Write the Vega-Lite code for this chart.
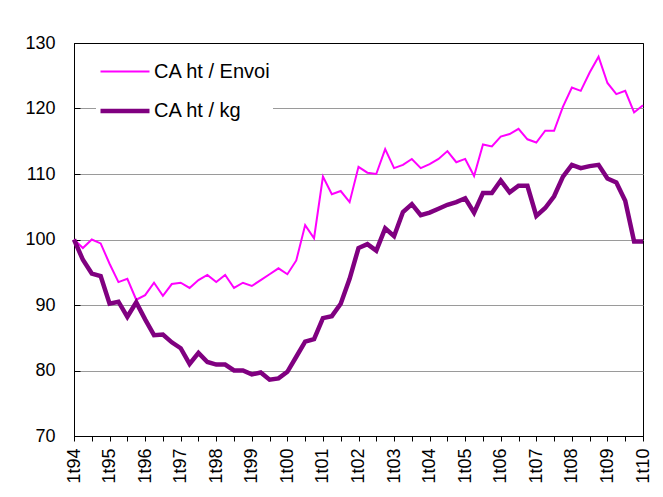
{
  "$schema": "https://vega.github.io/schema/vega-lite/v6.json",
  "autosize": "none",
  "width": 569,
  "height": 393,
  "padding": {"left": 74, "top": 43, "right": 20, "bottom": 61},
  "background": "white",
  "config": {
    "font": "Liberation Sans",
    "view": {"stroke": "black", "strokeWidth": 1}
  },
  "data": {
    "values": [
      {"q": "1t94", "s": "CA ht / Envoi", "v": 100}, {"q": "1t94", "s": "CA ht / kg", "v": 100},
      {"q": "2t94", "s": "CA ht / Envoi", "v": 98.7}, {"q": "2t94", "s": "CA ht / kg", "v": 96.9},
      {"q": "3t94", "s": "CA ht / Envoi", "v": 100}, {"q": "3t94", "s": "CA ht / kg", "v": 94.8},
      {"q": "4t94", "s": "CA ht / Envoi", "v": 99.4}, {"q": "4t94", "s": "CA ht / kg", "v": 94.4},
      {"q": "1t95", "s": "CA ht / Envoi", "v": 96.3}, {"q": "1t95", "s": "CA ht / kg", "v": 90.2},
      {"q": "2t95", "s": "CA ht / Envoi", "v": 93.5}, {"q": "2t95", "s": "CA ht / kg", "v": 90.5},
      {"q": "3t95", "s": "CA ht / Envoi", "v": 94.0}, {"q": "3t95", "s": "CA ht / kg", "v": 88.2},
      {"q": "4t95", "s": "CA ht / Envoi", "v": 90.8}, {"q": "4t95", "s": "CA ht / kg", "v": 90.4},
      {"q": "1t96", "s": "CA ht / Envoi", "v": 91.5}, {"q": "1t96", "s": "CA ht / kg", "v": 87.8},
      {"q": "2t96", "s": "CA ht / Envoi", "v": 93.4}, {"q": "2t96", "s": "CA ht / kg", "v": 85.4},
      {"q": "3t96", "s": "CA ht / Envoi", "v": 91.4}, {"q": "3t96", "s": "CA ht / kg", "v": 85.5},
      {"q": "4t96", "s": "CA ht / Envoi", "v": 93.2}, {"q": "4t96", "s": "CA ht / kg", "v": 84.3},
      {"q": "1t97", "s": "CA ht / Envoi", "v": 93.4}, {"q": "1t97", "s": "CA ht / kg", "v": 83.4},
      {"q": "2t97", "s": "CA ht / Envoi", "v": 92.6}, {"q": "2t97", "s": "CA ht / kg", "v": 81.0},
      {"q": "3t97", "s": "CA ht / Envoi", "v": 93.8}, {"q": "3t97", "s": "CA ht / kg", "v": 82.7},
      {"q": "4t97", "s": "CA ht / Envoi", "v": 94.6}, {"q": "4t97", "s": "CA ht / kg", "v": 81.3},
      {"q": "1t98", "s": "CA ht / Envoi", "v": 93.5}, {"q": "1t98", "s": "CA ht / kg", "v": 80.9},
      {"q": "2t98", "s": "CA ht / Envoi", "v": 94.6}, {"q": "2t98", "s": "CA ht / kg", "v": 80.9},
      {"q": "3t98", "s": "CA ht / Envoi", "v": 92.6}, {"q": "3t98", "s": "CA ht / kg", "v": 80.0},
      {"q": "4t98", "s": "CA ht / Envoi", "v": 93.4}, {"q": "4t98", "s": "CA ht / kg", "v": 80.0},
      {"q": "1t99", "s": "CA ht / Envoi", "v": 92.9}, {"q": "1t99", "s": "CA ht / kg", "v": 79.4},
      {"q": "2t99", "s": "CA ht / Envoi", "v": 93.8}, {"q": "2t99", "s": "CA ht / kg", "v": 79.7},
      {"q": "3t99", "s": "CA ht / Envoi", "v": 94.7}, {"q": "3t99", "s": "CA ht / kg", "v": 78.6},
      {"q": "4t99", "s": "CA ht / Envoi", "v": 95.6}, {"q": "4t99", "s": "CA ht / kg", "v": 78.8},
      {"q": "1t00", "s": "CA ht / Envoi", "v": 94.7}, {"q": "1t00", "s": "CA ht / kg", "v": 79.8},
      {"q": "2t00", "s": "CA ht / Envoi", "v": 96.8}, {"q": "2t00", "s": "CA ht / kg", "v": 82.1},
      {"q": "3t00", "s": "CA ht / Envoi", "v": 102.2}, {"q": "3t00", "s": "CA ht / kg", "v": 84.4},
      {"q": "4t00", "s": "CA ht / Envoi", "v": 100.2}, {"q": "4t00", "s": "CA ht / kg", "v": 84.8},
      {"q": "1t01", "s": "CA ht / Envoi", "v": 109.6}, {"q": "1t01", "s": "CA ht / kg", "v": 88.0},
      {"q": "2t01", "s": "CA ht / Envoi", "v": 106.9}, {"q": "2t01", "s": "CA ht / kg", "v": 88.3},
      {"q": "3t01", "s": "CA ht / Envoi", "v": 107.4}, {"q": "3t01", "s": "CA ht / kg", "v": 90.2},
      {"q": "4t01", "s": "CA ht / Envoi", "v": 105.7}, {"q": "4t01", "s": "CA ht / kg", "v": 94.0},
      {"q": "1t02", "s": "CA ht / Envoi", "v": 111.1}, {"q": "1t02", "s": "CA ht / kg", "v": 98.7},
      {"q": "2t02", "s": "CA ht / Envoi", "v": 110.2}, {"q": "2t02", "s": "CA ht / kg", "v": 99.3},
      {"q": "3t02", "s": "CA ht / Envoi", "v": 110.0}, {"q": "3t02", "s": "CA ht / kg", "v": 98.3},
      {"q": "4t02", "s": "CA ht / Envoi", "v": 113.8}, {"q": "4t02", "s": "CA ht / kg", "v": 101.7},
      {"q": "1t03", "s": "CA ht / Envoi", "v": 110.9}, {"q": "1t03", "s": "CA ht / kg", "v": 100.5},
      {"q": "2t03", "s": "CA ht / Envoi", "v": 111.4}, {"q": "2t03", "s": "CA ht / kg", "v": 104.2},
      {"q": "3t03", "s": "CA ht / Envoi", "v": 112.3}, {"q": "3t03", "s": "CA ht / kg", "v": 105.4},
      {"q": "4t03", "s": "CA ht / Envoi", "v": 110.9}, {"q": "4t03", "s": "CA ht / kg", "v": 103.7},
      {"q": "1t04", "s": "CA ht / Envoi", "v": 111.5}, {"q": "1t04", "s": "CA ht / kg", "v": 104.1},
      {"q": "2t04", "s": "CA ht / Envoi", "v": 112.3}, {"q": "2t04", "s": "CA ht / kg", "v": 104.7},
      {"q": "3t04", "s": "CA ht / Envoi", "v": 113.5}, {"q": "3t04", "s": "CA ht / kg", "v": 105.3},
      {"q": "4t04", "s": "CA ht / Envoi", "v": 111.8}, {"q": "4t04", "s": "CA ht / kg", "v": 105.7},
      {"q": "1t05", "s": "CA ht / Envoi", "v": 112.3}, {"q": "1t05", "s": "CA ht / kg", "v": 106.3},
      {"q": "2t05", "s": "CA ht / Envoi", "v": 109.7}, {"q": "2t05", "s": "CA ht / kg", "v": 104.1},
      {"q": "3t05", "s": "CA ht / Envoi", "v": 114.5}, {"q": "3t05", "s": "CA ht / kg", "v": 107.1},
      {"q": "4t05", "s": "CA ht / Envoi", "v": 114.2}, {"q": "4t05", "s": "CA ht / kg", "v": 107.1},
      {"q": "1t06", "s": "CA ht / Envoi", "v": 115.7}, {"q": "1t06", "s": "CA ht / kg", "v": 109.0},
      {"q": "2t06", "s": "CA ht / Envoi", "v": 116.1}, {"q": "2t06", "s": "CA ht / kg", "v": 107.2},
      {"q": "3t06", "s": "CA ht / Envoi", "v": 116.9}, {"q": "3t06", "s": "CA ht / kg", "v": 108.2},
      {"q": "4t06", "s": "CA ht / Envoi", "v": 115.3}, {"q": "4t06", "s": "CA ht / kg", "v": 108.2},
      {"q": "1t07", "s": "CA ht / Envoi", "v": 114.8}, {"q": "1t07", "s": "CA ht / kg", "v": 103.6},
      {"q": "2t07", "s": "CA ht / Envoi", "v": 116.6}, {"q": "2t07", "s": "CA ht / kg", "v": 104.8},
      {"q": "3t07", "s": "CA ht / Envoi", "v": 116.6}, {"q": "3t07", "s": "CA ht / kg", "v": 106.6},
      {"q": "4t07", "s": "CA ht / Envoi", "v": 120.3}, {"q": "4t07", "s": "CA ht / kg", "v": 109.6},
      {"q": "1t08", "s": "CA ht / Envoi", "v": 123.2}, {"q": "1t08", "s": "CA ht / kg", "v": 111.4},
      {"q": "2t08", "s": "CA ht / Envoi", "v": 122.7}, {"q": "2t08", "s": "CA ht / kg", "v": 110.9},
      {"q": "3t08", "s": "CA ht / Envoi", "v": 125.5}, {"q": "3t08", "s": "CA ht / kg", "v": 111.2},
      {"q": "4t08", "s": "CA ht / Envoi", "v": 127.9}, {"q": "4t08", "s": "CA ht / kg", "v": 111.4},
      {"q": "1t09", "s": "CA ht / Envoi", "v": 123.9}, {"q": "1t09", "s": "CA ht / kg", "v": 109.3},
      {"q": "2t09", "s": "CA ht / Envoi", "v": 122.2}, {"q": "2t09", "s": "CA ht / kg", "v": 108.7},
      {"q": "3t09", "s": "CA ht / Envoi", "v": 122.7}, {"q": "3t09", "s": "CA ht / kg", "v": 105.9},
      {"q": "4t09", "s": "CA ht / Envoi", "v": 119.4}, {"q": "4t09", "s": "CA ht / kg", "v": 99.7},
      {"q": "1t10", "s": "CA ht / Envoi", "v": 120.5}, {"q": "1t10", "s": "CA ht / kg", "v": 99.7}
    ]
  },
  "mark": {"type": "line", "strokeJoin": "miter"},
  "encoding": {
    "x": {
      "field": "q",
      "type": "ordinal",
      "sort": null,
      "scale": {"type": "point", "padding": 0},
      "axis": {
        "title": null,
        "values": ["1t94","3t94","1t95","3t95","1t96","3t96","1t97","3t97","1t98","3t98","1t99","3t99","1t00","3t00","1t01","3t01","1t02","3t02","1t03","3t03","1t04","3t04","1t05","3t05","1t06","3t06","1t07","3t07","1t08","3t08","1t09","3t09","1t10"],
        "labelExpr": "indexof(datum.label, '1t') == 0 ? datum.label : ''",
        "labelAngle": -90,
        "labelFontSize": 18,
        "labelColor": "black",
        "labelPadding": 7,
        "tickSize": 5,
        "tickColor": "black",
        "domainColor": "black",
        "grid": false,
        "labelOverlap": false
      }
    },
    "y": {
      "field": "v",
      "type": "quantitative",
      "scale": {"domain": [70, 130], "nice": false, "zero": false},
      "axis": {
        "title": null,
        "values": [70, 80, 90, 100, 110, 120, 130],
        "labelFontSize": 18,
        "labelColor": "black",
        "labelPadding": 25,
        "ticks": true,
        "tickSize": -6,
        "tickColor": "black",
        "domainColor": "black",
        "grid": true,
        "gridColor": {"condition": {"test": "datum.value == 70 || datum.value == 130", "value": "black"}, "value": "#9a9a9a"},
        "gridWidth": 1
      }
    },
    "color": {
      "field": "s",
      "type": "nominal",
      "scale": {"domain": ["CA ht / Envoi", "CA ht / kg"], "range": ["#FF00FF", "#800080"]},
      "legend": {
        "title": null,
        "orient": "none",
        "legendX": 22,
        "legendY": 1,
        "padding": 2,
        "fillColor": "white",
        "symbolType": "stroke",
        "symbolSize": 2400,
        "labelFontSize": 20,
        "labelColor": "black",
        "labelOffset": 2,
        "rowPadding": 2
      }
    },
    "strokeWidth": {
      "field": "s",
      "type": "nominal",
      "scale": {"domain": ["CA ht / Envoi", "CA ht / kg"], "range": [2, 4.5]},
      "legend": {
        "title": null,
        "orient": "none",
        "legendX": 22,
        "legendY": 1,
        "padding": 2,
        "fillColor": "white",
        "symbolType": "stroke",
        "symbolSize": 2400,
        "labelFontSize": 20,
        "labelColor": "black",
        "labelOffset": 2,
        "rowPadding": 2
      }
    }
  }
}
